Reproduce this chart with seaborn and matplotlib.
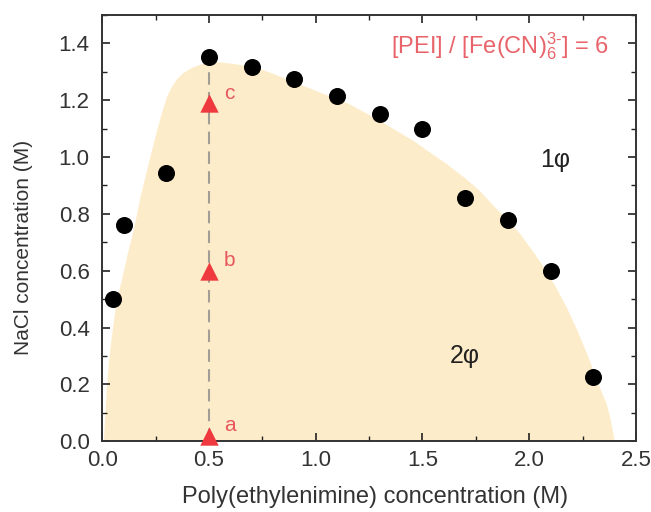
import matplotlib
matplotlib.use("Agg")
import matplotlib.pyplot as plt
from matplotlib.ticker import MultipleLocator
import seaborn as sns
import pandas as pd

# Binodal data points (black dots)
pei_conc = [0.05, 0.10, 0.30, 0.50, 0.70, 0.90, 1.10, 1.30, 1.50, 1.70, 1.90, 2.10, 2.30]
nacl_conc = [0.50, 0.76, 0.945, 1.35, 1.315, 1.275, 1.215, 1.15, 1.10, 0.855, 0.78, 0.60, 0.225]

# Sample points (red triangles)
sample_x = [0.5, 0.5, 0.5]
sample_y = [0.02, 0.60, 1.19]
sample_labels = ["a", "b", "c"]

# Two-phase region boundary (shaded)
region_x = [0.008, 0.015, 0.023, 0.033, 0.045, 0.057, 0.069, 0.092, 0.12, 0.147, 0.18,
            0.217, 0.256, 0.28, 0.303, 0.325, 0.35, 0.38, 0.42, 0.46, 0.50, 0.55, 0.62,
            0.72, 0.80, 0.88, 0.96, 1.036, 1.16, 1.30, 1.457, 1.614, 1.70, 1.77, 1.83,
            1.89, 1.957, 2.02, 2.08, 2.13, 2.175, 2.225, 2.27, 2.30, 2.33, 2.363, 2.38,
            2.393, 2.40]
region_y = [0.0, 0.10, 0.20, 0.29, 0.367, 0.435, 0.495, 0.566, 0.66, 0.74, 0.86,
            0.975, 1.09, 1.155, 1.21, 1.245, 1.273, 1.295, 1.313, 1.325, 1.332, 1.333, 1.327,
            1.314, 1.293, 1.268, 1.245, 1.222, 1.185, 1.127, 1.057, 0.975, 0.925, 0.88, 0.83,
            0.785, 0.73, 0.665, 0.60, 0.535, 0.472, 0.39, 0.309, 0.25, 0.19, 0.13, 0.08,
            0.03, 0.0]

sns.set_theme(style="ticks")
plt.rcParams["font.family"] = ["Liberation Sans", "DejaVu Sans"]
plt.rcParams["mathtext.fontset"] = "custom"
plt.rcParams["mathtext.rm"] = "Liberation Sans"
plt.rcParams["mathtext.it"] = "Liberation Sans"

fig = plt.figure(figsize=(6.51, 5.12), dpi=100)
ax = fig.add_axes([0.157, 0.138, 0.82, 0.833])

ax.fill(region_x, region_y, color="#FDECC9", lw=0, zorder=0)

ax.plot([0.5, 0.5], [0.0, 1.33], ls=(0, (6, 3.5)), color="#A39E95", lw=1.5, zorder=1)

df = pd.DataFrame({"x": pei_conc, "y": nacl_conc})
sns.scatterplot(data=df, x="x", y="y", ax=ax, color="black", s=150,
                edgecolor="black", linewidth=0, zorder=4, clip_on=False)

sdf = pd.DataFrame({"x": sample_x, "y": sample_y})
sns.scatterplot(data=sdf, x="x", y="y", ax=ax, marker="^", color="#EE3A3F", s=175,
                linewidth=0, zorder=5, clip_on=False)
for sx, sy, lab in zip(sample_x, sample_y, sample_labels):
    ax.text(sx + 0.096, sy + 0.035, lab, color="#E8575C", fontsize=15,
            ha="center", va="center")

ax.text(1.863, 1.39, r"[PEI] / [Fe(CN)$_6^{3\text{-}}$] = 6", color="#E8646A",
        fontsize=17, ha="center", va="center")
ax.text(2.12, 0.99, "1φ", fontsize=18, color="#222222", ha="center", va="center")
ax.text(1.70, 0.30, "2φ", fontsize=18, color="#222222", ha="center", va="center")

ax.set_xlim(0, 2.5)
ax.set_ylim(0, 1.5)
ax.xaxis.set_major_locator(MultipleLocator(0.5))
ax.xaxis.set_minor_locator(MultipleLocator(0.25))
ax.set_yticks([0, 0.2, 0.4, 0.6, 0.8, 1.0, 1.2, 1.4])
ax.yaxis.set_minor_locator(MultipleLocator(0.1))

ax.tick_params(which="both", direction="in", top=True, right=True, color="#222222")
ax.tick_params(which="major", length=6, width=1.2, labelsize=16, labelcolor="#333333")
ax.tick_params(which="minor", length=3.5, width=1.0)
ax.tick_params(axis="x", which="major", pad=6)
ax.tick_params(axis="y", which="major", pad=9)
for sp in ax.spines.values():
    sp.set_linewidth(1.4)
    sp.set_color("#333333")
    sp.set_visible(True)

ax.set_xlabel("Poly(ethylenimine) concentration (M)", fontsize=17, color="#333333")
ax.set_ylabel("NaCl concentration (M)", fontsize=15, color="#333333")
ax.xaxis.label.set_va("center")
ax.yaxis.label.set_va("center")
ax.xaxis.set_label_coords(0.511, -0.131)
ax.yaxis.set_label_coords(-0.148, 0.455)

fig.savefig("out.png", dpi=100)
